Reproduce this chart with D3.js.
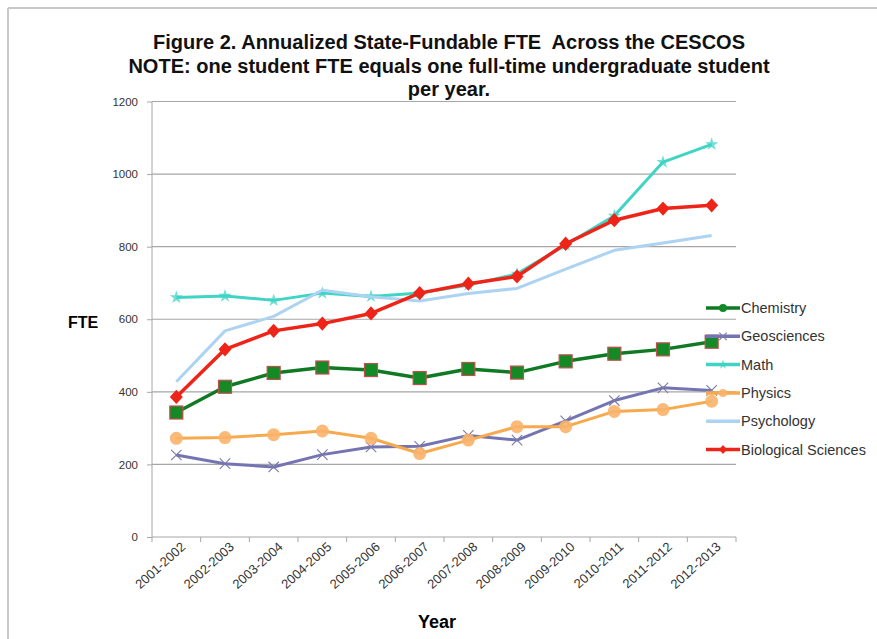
<!DOCTYPE html>
<meta charset="utf-8">
<style>
body { margin: 0; background: #fff; }
text { font-family: "Liberation Sans", Arial, sans-serif; }
.grid line { stroke: #a6a6a6; stroke-width: 1.2; }
.axis path, .axis line { stroke: #a6a6a6; }
.axis text { fill: #333; font-size: 11.5px; }
</style>
<svg width="877" height="639"></svg>
<script src="https://d3js.org/d3.v7.min.js"></script>
<script>

var years = ["2001-2002", "2002-2003", "2003-2004", "2004-2005", "2005-2006", "2006-2007",
             "2007-2008", "2008-2009", "2009-2010", "2010-2011", "2011-2012", "2012-2013"];

var chemistry  = [343, 414, 452, 467, 460, 438, 463, 453, 484, 505, 517, 538];
var geosciences = [226, 202, 193, 227, 248, 250, 280, 267, 320, 376, 411, 404];
var math       = [660, 664, 652, 672, 663, 672, 694, 725, 805, 885, 1033, 1082];
var physics    = [272, 274, 282, 292, 272, 230, 267, 304, 304, 346, 351, 374];
var psychology = [428, 568, 608, 680, 662, 650, 671, 685, 738, 790, 810, 831];
var biology    = [386, 517, 568, 588, 616, 672, 698, 718, 808, 873, 905, 914];

var yTicks = [0, 200, 400, 600, 800, 1000, 1200];

var series = [
  {name: "Chemistry", values: chemistry, color: "#0f7a23", width: 3.5, marker: "square"},
  {name: "Geosciences", values: geosciences, color: "#7574b3", width: 3, marker: "x"},
  {name: "Math", values: math, color: "#3fd4c4", width: 3, marker: "star"},
  {name: "Physics", values: physics, color: "#f7a94e", width: 3, marker: "circle"},
  {name: "Psychology", values: psychology, color: "#acd3f2", width: 3, marker: "none"},
  {name: "Biological Sciences", values: biology, color: "#ee2418", width: 3.5, marker: "diamond"}
];

var svg = d3.select("svg");

// outer frame (only top and left edges are visible)
svg.append("line").attr("x1", 8).attr("y1", 8).attr("x2", 877).attr("y2", 8)
    .attr("stroke", "#c8c8c8").attr("stroke-width", 2);
svg.append("line").attr("x1", 8).attr("y1", 8).attr("x2", 8).attr("y2", 639)
    .attr("stroke", "#c8c8c8").attr("stroke-width", 2);

var plotLeft = 152, plotRight = 736, plotTop = 101.5, plotBottom = 537;

var x = d3.scaleBand().domain(years).range([plotLeft, plotRight]);
var y = d3.scaleLinear().domain([0, 1200]).range([plotBottom, plotTop]);

// title
var title = svg.append("text")
    .attr("text-anchor", "middle")
    .style("font-weight", "bold")
    .style("font-size", "20px")
    .attr("fill", "#111");
["Figure 2. Annualized State-Fundable FTE  Across the CESCOS",
 "NOTE: one student FTE equals one full-time undergraduate student",
 "per year."].forEach(function(t, i) {
  title.append("tspan").attr("x", 449).attr("y", 49 + i * 23.5)
      .style("white-space", "pre").text(t);
});

// gridlines
svg.append("g").attr("class", "grid")
  .selectAll("line")
  .data(yTicks.filter(function(d) { return d > 0; }))
  .enter().append("line")
    .attr("x1", plotLeft).attr("x2", plotRight)
    .attr("y1", function(d) { return y(d); })
    .attr("y2", function(d) { return y(d); });

// y axis
svg.append("g").attr("class", "axis")
    .attr("transform", "translate(" + plotLeft + ",0)")
    .call(d3.axisLeft(y).tickValues(yTicks).tickSize(5).tickPadding(9).tickFormat(d3.format("d")))
    .call(function(g) { g.select(".domain").attr("d", "M0," + y(1200) + "V" + y(0)); });

// x axis with ticks between categories
var xAxis = svg.append("g").attr("class", "axis")
    .attr("transform", "translate(0," + plotBottom + ")");
xAxis.append("line").attr("x1", plotLeft).attr("x2", plotRight).attr("stroke", "#a6a6a6");
xAxis.selectAll(".tk")
  .data(years.concat(["end"]))
  .enter().append("line")
    .attr("x1", function(d, i) { return plotLeft + i * x.bandwidth(); })
    .attr("x2", function(d, i) { return plotLeft + i * x.bandwidth(); })
    .attr("y1", 0).attr("y2", 5)
    .attr("stroke", "#a6a6a6");
xAxis.selectAll(".lbl")
  .data(years)
  .enter().append("text")
    .attr("transform", function(d) {
      return "translate(" + (x(d) + x.bandwidth() / 2 + 10) + ",11) rotate(-42)";
    })
    .attr("text-anchor", "end")
    .attr("fill", "#333")
    .style("font-size", "13px")
    .text(function(d) { return d; });

// axis titles
svg.append("text").attr("x", 83).attr("y", 328)
    .attr("text-anchor", "middle")
    .style("font-weight", "bold").style("font-size", "16px")
    .text("FTE");
svg.append("text").attr("x", 437).attr("y", 628)
    .attr("text-anchor", "middle")
    .style("font-weight", "bold").style("font-size", "18px")
    .text("Year");

function drawMarker(g, type, color, size) {
  if (type === "square") {
    g.append("rect").attr("x", -size / 2).attr("y", -size / 2)
        .attr("width", size).attr("height", size)
        .attr("fill", "#138a25").attr("stroke", "#c0504d").attr("stroke-width", 1.2);
  } else if (type === "diamond") {
    var w = size * 0.5, h = size * 0.55;
    g.append("path").attr("d", "M0," + (-h) + "L" + w + ",0L0," + h + "L" + (-w) + ",0Z")
        .attr("fill", color);
  } else if (type === "circle") {
    g.append("circle").attr("r", size / 2).attr("fill", "#f9b26a").attr("opacity", 0.9);
  } else if (type === "x") {
    g.append("path").attr("d", d3.symbol().type(d3.symbolTimes).size(size * size * 0.6)())
        .attr("fill", "none").attr("stroke", "#7a7aa8").attr("stroke-width", 1.1);
  } else if (type === "star") {
    g.append("path").attr("d", d3.symbol().type(d3.symbolStar).size(size * size * 0.45)())
        .attr("fill", color).attr("opacity", 0.75);
  }
}

var line = d3.line()
    .x(function(d, i) { return x(years[i]) + x.bandwidth() / 2; })
    .y(function(d) { return y(d); });

series.forEach(function(s) {
  var g = svg.append("g");
  g.append("path")
      .attr("d", line(s.values))
      .attr("fill", "none")
      .attr("stroke", s.color)
      .attr("stroke-width", s.width)
      .attr("stroke-linejoin", "round");
  var sz = s.marker === "square" ? 13 : s.marker === "diamond" ? 13 : s.marker === "circle" ? 13 : 11;
  s.values.forEach(function(v, i) {
    var m = g.append("g")
        .attr("transform", "translate(" + (x(years[i]) + x.bandwidth() / 2) + "," + y(v) + ")");
    drawMarker(m, s.marker, s.color, sz);
  });
});

// legend
var legend = svg.append("g");
series.forEach(function(s, i) {
  var ly = 308 + i * 28.3;
  var lg = legend.append("g").attr("transform", "translate(0," + ly + ")");
  lg.append("line").attr("x1", 706).attr("x2", 740).attr("y1", 0).attr("y2", 0)
      .attr("stroke", s.color).attr("stroke-width", 3.5);
  var m = lg.append("g").attr("transform", "translate(723,0)");
  if (s.marker === "square") {
    m.append("circle").attr("r", 4).attr("fill", "#138a25");
  } else if (s.marker !== "none") {
    drawMarker(m, s.marker, s.color, 8);
  }
  lg.append("text").attr("x", 741).attr("y", 5)
      .attr("fill", "#333").style("font-size", "14.5px")
      .text(s.name);
});

</script>
